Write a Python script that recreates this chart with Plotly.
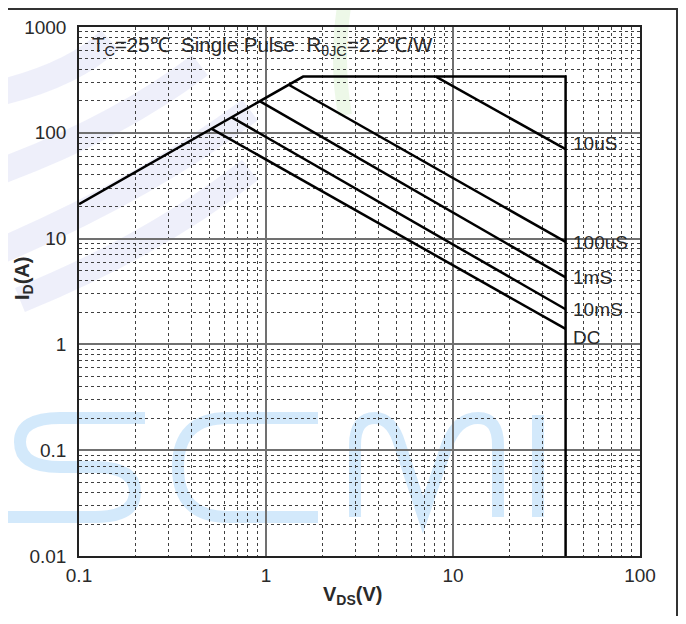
import plotly.graph_objects as go
import numpy as np

# ---- data ----
env_v = [0.1, 1.58, 40, 40]          # Rds(on) limit, current limit, Vds limit
env_i = [21.2, 340, 340, 0.01]
us10_v = [8.1, 40]
us10_i = [340, 70]
us100_v = [1.33, 40]
us100_i = [283, 9.3]
ms1_v = [0.93, 40]
ms1_i = [198, 4.3]
ms10_v = [0.656, 40]
ms10_i = [140, 2.15]
dc_v = [0.513, 40]
dc_i = [109, 1.4]

curve_labels = ["10uS", "100uS", "1mS", "10mS", "DC"]
label_i = [70, 9.3, 4.3, 2.15, 1.4]

x_tickvals = [0.1, 1, 10, 100]
x_ticktext = ["0.1", "1", "10", "100"]
y_tickvals = [0.01, 0.1, 1, 10, 100, 1000]
y_ticktext = ["0.01", "0.1", "1", "10", "100", "1000"]

OFF = 8  # page body margin
W, H = 686 - 2 * OFF, 624 - 2 * OFF
# plot area in window pixels
L, R, T, B = 79, 640, 27, 556


def px(x):
    return (x - L) / (R - L)


def py(y):
    return (B - y) / (B - T)


fig = go.Figure()
line = dict(color="black", width=2.5)
for xs, ys in [(env_v, env_i), (us10_v, us10_i), (us100_v, us100_i),
               (ms1_v, ms1_i), (ms10_v, ms10_i), (dc_v, dc_i)]:
    fig.add_trace(go.Scatter(x=xs, y=ys, mode="lines", line=line,
                             showlegend=False, hoverinfo="skip"))

font = "Liberation Sans, Arial, sans-serif"
txtcol = "#2a2a2a"

label_shift = [6, -1, 0, 0, -9]
for txt, yi, dy in zip(curve_labels, label_i, label_shift):
    fig.add_annotation(x=np.log10(42.5), y=np.log10(yi), text=txt,
                       xanchor="left", yanchor="middle", showarrow=False,
                       yshift=dy, font=dict(family=font, size=19, color=txtcol))

fig.add_annotation(xref="paper", yref="paper", x=px(90), y=py(46),
                   xanchor="left", yanchor="middle", showarrow=False,
                   text="T<sub>C</sub>=25\u2103  Single Pulse  R<sub>\u03b8JC</sub>=2.2\u2103/W",
                   font=dict(family=font, size=20.5, color=txtcol))

# axis titles placed explicitly
fig.add_annotation(xref="paper", yref="paper", x=px(352), y=py(595),
                   xanchor="center", yanchor="middle", showarrow=False,
                   text="<b>V<sub>DS</sub>(V)</b>",
                   font=dict(family=font, size=20, color=txtcol))
fig.add_annotation(xref="paper", yref="paper", x=px(23), y=py(279),
                   xanchor="center", yanchor="middle", showarrow=False, textangle=-90,
                   text="<b>I<sub>D</sub>(A)</b>",
                   font=dict(family=font, size=20, color=txtcol))

# ---- watermark (background decoration) ----
wm = "rgba(200,227,250,0.8)"
shapes = []


def P(x, y):
    return f"{px(x):.4f},{py(y):.4f}"


def add_path(d, color=wm, width=12):
    shapes.append(dict(type="path", xref="paper", yref="paper", path=d,
                       line=dict(color=color, width=width), layer="below"))

# diagonal stripes upper-left
stripe = "rgba(205,210,242,0.35)"
for x0, y0, x1, y1 in [(-10, 95, 110, 40), (-10, 175, 200, 65), (-10, 255, 250, 110),
                       (20, 300, 250, 170)]:
    add_path(f"M{P(x0, y0)} Q{P((x0 + x1) / 2 + 20, (y0 + y1) / 2 + 10)} {P(x1, y1)}",
             color=stripe, width=26)
# S
add_path(f"M{P(145, 418)} L{P(60, 418)} Q{P(20, 418)} {P(20, 442)} Q{P(20, 467)} {P(60, 467)} "
         f"L{P(95, 467)} Q{P(135, 467)} {P(135, 492)} Q{P(135, 517)} {P(95, 517)} L{P(8, 517)}")
# C
add_path(f"M{P(318, 418)} L{P(228, 418)} Q{P(178, 418)} {P(178, 467)} Q{P(178, 517)} {P(228, 517)} L{P(318, 517)}")
# M
add_path(f"M{P(355, 517)} L{P(355, 445)} Q{P(355, 418)} {P(375, 418)} Q{P(392, 418)} {P(400, 445)} "
         f"L{P(423, 515)} L{P(447, 445)} Q{P(457, 418)} {P(478, 418)} Q{P(498, 418)} {P(498, 445)} L{P(498, 517)}")
# I
add_path(f"M{P(538, 415)} L{P(538, 517)}")
# faint green
add_path(f"M{P(345, 0)} Q{P(335, 60)} {P(345, 115)}", color="rgba(215,240,205,0.45)", width=14)

# outer frame lines (as close to the reference as the page allows)
shapes.append(dict(type="line", xref="paper", yref="paper", x0=px(0), x1=px(678),
                   y0=py(9), y1=py(9), line=dict(color="#333", width=2)))
shapes.append(dict(type="line", xref="paper", yref="paper", x0=px(677), x1=px(677),
                   y0=py(9), y1=py(624), line=dict(color="#333", width=2)))

fig.update_layout(shapes=shapes)

grid_major = "#707070"
minor = dict(showgrid=True, gridcolor="#404040", griddash="dot", gridwidth=1, dtick="D1", ticks="")

fig.update_xaxes(type="log", range=[-1, 2], tickvals=x_tickvals, ticktext=x_ticktext,
                 showgrid=True, gridcolor=grid_major, gridwidth=1.5, minor=minor,
                 showline=True, linecolor="#222", linewidth=1.5, mirror=True,
                 ticks="", tickfont=dict(family=font, size=19, color=txtcol),
                 ticklabelstandoff=1, automargin=False, zeroline=False)
fig.update_yaxes(type="log", range=[-2, 3], tickvals=y_tickvals, ticktext=y_ticktext,
                 showgrid=True, gridcolor=grid_major, gridwidth=1.5, minor=minor,
                 showline=True, linecolor="#222", linewidth=1.5, mirror=True,
                 ticks="", tickfont=dict(family=font, size=19, color=txtcol),
                 ticklabelstandoff=7, automargin=False, zeroline=False)

fig.update_layout(width=W, height=H,
                  margin=dict(l=L - OFF, r=(W + OFF) - R, t=T - OFF, b=(H + OFF) - B),
                  plot_bgcolor="rgba(0,0,0,0)", paper_bgcolor="white",
                  showlegend=False)

fig.write_html("out.html")
